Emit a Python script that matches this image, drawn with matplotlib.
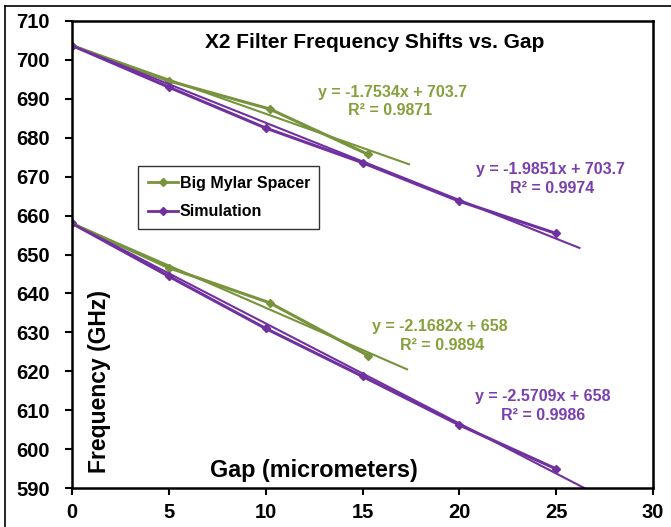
import matplotlib
matplotlib.use('Agg')
import numpy as np
import matplotlib.pyplot as plt
from matplotlib.lines import Line2D

plt.rcParams['font.family'] = ['Liberation Sans', 'DejaVu Sans']

# measured data (gap in micrometers, frequency in GHz)
mylar_gap_hi = [0, 5, 10.2, 15.3]
mylar_freq_hi = [703.7, 694.6, 687.4, 675.7]
sim_gap_hi = [0, 5, 10, 15, 20, 25]
sim_freq_hi = [703.7, 693.0, 682.5, 673.6, 663.7, 655.4]

mylar_gap_lo = [0, 5, 10.2, 15.3]
mylar_freq_lo = [658.0, 646.6, 637.6, 624.0]
sim_gap_lo = [0, 5, 10, 15, 20, 25]
sim_freq_lo = [658.0, 644.4, 631.0, 618.7, 606.2, 594.9]

# linear trendlines as printed on the chart
fit_slopes = [-1.7534, -1.9851, -2.1682, -2.5709]
fit_intercepts = [703.7, 703.7, 658, 658]
fit_xmax = [17.4, 26.2, 17.3, 27.0]
fit_r2 = [0.9871, 0.9974, 0.9894, 0.9986]

green = '#77933C'
purple = '#7030A0'
green_txt = '#86A03C'
purple_txt = '#7A3FAE'

fig = plt.figure(figsize=(6.71, 5.27), dpi=100)
ax = fig.add_axes([72 / 671, 39 / 527, 581 / 671, 467 / 527])

mk = dict(marker='D', markersize=4.5, linewidth=2.2)
ax.plot(mylar_gap_hi, mylar_freq_hi, color=green, **mk)
ax.plot(sim_gap_hi, sim_freq_hi, color=purple, **mk)
ax.plot(mylar_gap_lo, mylar_freq_lo, color=green, **mk)
ax.plot(sim_gap_lo, sim_freq_lo, color=purple, **mk)

fit_colors = [green, purple, green, purple]
for m, b, xm, c in zip(fit_slopes, fit_intercepts, fit_xmax, fit_colors):
    xs = np.array([0, xm])
    ax.plot(xs, m * xs + b, color=c, linewidth=1.5)

ax.set_xlim(0, 30)
ax.set_ylim(590, 710)
ax.set_xticks(range(0, 31, 5))
ax.set_yticks(range(590, 711, 10))
ax.tick_params(direction='out', length=5, width=1.5, labelsize=14.5)
ax.tick_params(axis='y', pad=11)
ax.tick_params(axis='x', pad=6)
for lab in ax.get_xticklabels() + ax.get_yticklabels():
    lab.set_fontweight('bold')
for s in ax.spines.values():
    s.set_linewidth(1.8)

ax.text(0.521, 0.953, 'X2 Filter Frequency Shifts vs. Gap', transform=ax.transAxes,
        ha='center', va='center', fontsize=15, fontweight='bold')
ax.text(0.048, 0.227, 'Frequency (GHz)', transform=ax.transAxes, rotation=90,
        ha='center', va='center', fontsize=16.5, fontweight='bold')
ax.text(0.4165, 0.0385, 'Gap (micrometers)', transform=ax.transAxes,
        ha='center', va='center', fontsize=16.8, fontweight='bold')

# equation labels
eq_pos = [(0.551, 0.846, 0.547, 0.809), (0.824, 0.681, 0.826, 0.642),
          (0.633, 0.345, 0.637, 0.306), (0.811, 0.195, 0.811, 0.156)]
eq_colors = [green_txt, purple_txt, green_txt, purple_txt]
for m, b, r2, (x1, y1, x2, y2), c in zip(fit_slopes, fit_intercepts, fit_r2, eq_pos, eq_colors):
    ax.text(x1, y1, f'y = {m:.4f}x + {b:g}', transform=ax.transAxes, ha='center',
            va='center', fontsize=11.5, fontweight='bold', color=c)
    ax.text(x2, y2, f'R² = {r2:.4f}', transform=ax.transAxes, ha='center',
            va='center', fontsize=11.5, fontweight='bold', color=c)

handles = [Line2D([], [], color=green, marker='D', markersize=4, linewidth=2),
           Line2D([], [], color=purple, marker='D', markersize=4, linewidth=2)]
leg = ax.legend(handles, ['Big Mylar Spacer', 'Simulation'], loc='upper left',
                bbox_to_anchor=(0.1136, 0.6895), frameon=True, fancybox=False,
                prop={'weight': 'bold', 'size': 11.5}, handlelength=1.9,
                handletextpad=0.1, borderpad=0.6, labelspacing=0.85, borderaxespad=0)
leg.get_frame().set_edgecolor('black')
leg.get_frame().set_linewidth(1.0)

# outer chart border (top and left edges visible)
fig.add_artist(Line2D([5 / 671, 1], [1 - 6 / 527, 1 - 6 / 527], transform=fig.transFigure,
                      color='black', linewidth=1.2))
fig.add_artist(Line2D([5 / 671, 5 / 671], [0, 1 - 6 / 527], transform=fig.transFigure,
                      color='black', linewidth=1.2))

fig.savefig('out.png', dpi=100)
